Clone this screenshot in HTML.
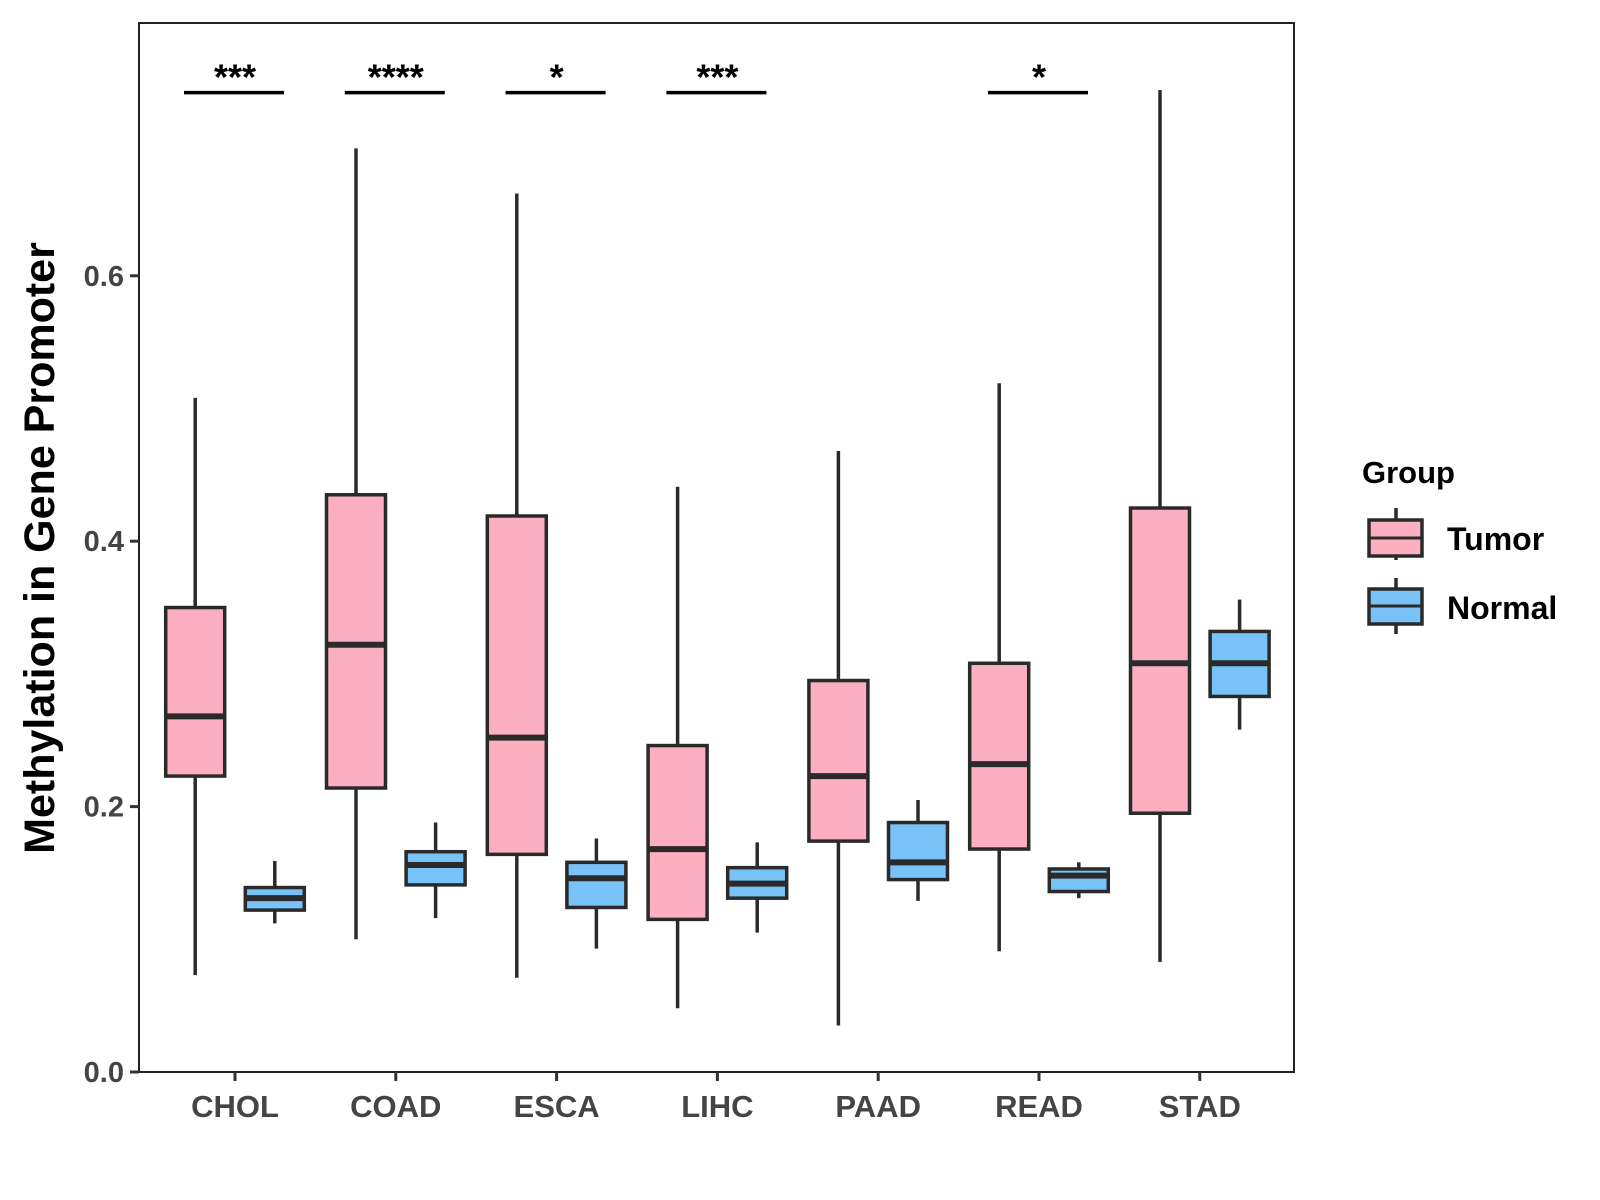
<!DOCTYPE html>
<html><head><meta charset="utf-8"><style>
html,body{margin:0;padding:0;background:#fff;}
svg{display:block;font-family:"Liberation Sans",Arial,sans-serif;}
</style></head><body>
<svg id="chart" width="1600" height="1200" viewBox="0 0 1600 1200">
<rect x="139" y="23" width="1155" height="1049" fill="#fff" stroke="#222" stroke-width="2"/>
<g id="ticks"></g>
<g id="boxes"></g>
<g id="sig"></g>
<text transform="translate(54,548) rotate(-90)" text-anchor="middle" font-size="43" font-weight="bold" fill="#000">Methylation in Gene Promoter</text>
<g>
<text x="1362" y="483" font-size="31" font-weight="bold">Group</text>
<g>
<line x1="1396" y1="508" x2="1396" y2="560" stroke="#2a2a2a" stroke-width="3.5"/>
<rect x="1369" y="520" width="53" height="36" fill="#FBAFC0" stroke="#2a2a2a" stroke-width="3.5"/>
<line x1="1369" y1="538" x2="1422" y2="538" stroke="#2a2a2a" stroke-width="3"/>
<text x="1447" y="550" font-size="32" font-weight="bold">Tumor</text>
</g>
<g>
<line x1="1396" y1="578" x2="1396" y2="634" stroke="#2a2a2a" stroke-width="3.5"/>
<rect x="1369" y="589" width="53" height="35" fill="#78C2F7" stroke="#2a2a2a" stroke-width="3.5"/>
<line x1="1369" y1="606" x2="1422" y2="606" stroke="#2a2a2a" stroke-width="3"/>
<text x="1447" y="619" font-size="32" font-weight="bold">Normal</text>
</g>
</g>
</svg>
<script>
const categories=["CHOL","COAD","ESCA","LIHC","PAAD","READ","STAD"];
// [min, q1, median, q3, max]
const tumorStats=[[0.073,0.223,0.268,0.35,0.508],[0.1,0.214,0.322,0.435,0.696],[0.071,0.164,0.252,0.419,0.662],[0.048,0.115,0.168,0.246,0.441],[0.035,0.174,0.223,0.295,0.468],[0.091,0.168,0.232,0.308,0.519],[0.083,0.195,0.308,0.425,0.74]];
const normalStats=[[0.112,0.122,0.131,0.139,0.159],[0.116,0.141,0.156,0.166,0.188],[0.093,0.124,0.146,0.158,0.176],[0.105,0.131,0.142,0.154,0.173],[0.129,0.145,0.158,0.188,0.205],[0.131,0.136,0.148,0.153,0.158],[0.258,0.283,0.308,0.332,0.356]];
const sigLabels=["***","****","*","***","","*",""];
const yTicks=[0.0,0.2,0.4,0.6];
const yTickLabels=["0.0","0.2","0.4","0.6"];
const sigLevel=0.738;

const NS="http://www.w3.org/2000/svg";
const y=v=>1072-v*1327;
const x=i=>235+i*160.8;
function mk(tag,attrs,parent){const e=document.createElementNS(NS,tag);for(const k in attrs)e.setAttribute(k,attrs[k]);parent.appendChild(e);return e;}
const tg=document.getElementById('ticks'),bg=document.getElementById('boxes'),sg=document.getElementById('sig');
yTicks.forEach((t,i)=>{
  const l=mk('line',{x1:130,x2:139,y1:y(t),y2:y(t),stroke:'#333','stroke-width':3},tg);
  
  
  const tx=mk('text',{x:124,y:y(t)+10,'text-anchor':'end','font-size':29,'font-weight':'bold',fill:'#444'},tg);
  tx.textContent=yTickLabels[i];
  
  
});
categories.forEach((c,i)=>{
  const l=mk('line',{x1:x(i),x2:x(i),y1:1072,y2:1081,stroke:'#333','stroke-width':3},tg);
  
  
  const tx=mk('text',{x:x(i),y:1117,'text-anchor':'middle','font-size':31,'font-weight':'bold',fill:'#444'},tg);
  tx.textContent=c;
  
  
  [[tumorStats[i],-39.8,'#FBAFC0','tumor'],[normalStats[i],39.8,'#78C2F7','normal']].forEach(([s,off,col,nm])=>{
    const cx=x(i)+off,w=59;
    const g=mk('g',{},bg);
    
    
    mk('line',{x1:cx,x2:cx,y1:y(s[4]),y2:y(s[0]),stroke:'#2a2a2a','stroke-width':3.5},g);
    mk('rect',{x:cx-w/2,y:y(s[3]),width:w,height:y(s[1])-y(s[3]),fill:col,stroke:'#2a2a2a','stroke-width':3.5},g);
    mk('line',{x1:cx-w/2,x2:cx+w/2,y1:y(s[2]),y2:y(s[2]),stroke:'#2a2a2a','stroke-width':6},g);
  });
  if(sigLabels[i]){
    const g=mk('g',{},sg);
    
    
    mk('line',{x1:x(i)-51,x2:x(i)+49,y1:y(sigLevel),y2:y(sigLevel),stroke:'#000','stroke-width':3.5},g);
    const t=mk('text',{x:x(i),y:y(sigLevel)-3,'text-anchor':'middle','font-size':36,'font-weight':'bold'},g);
    t.textContent=sigLabels[i];
  }
});
</script>
</body></html>
